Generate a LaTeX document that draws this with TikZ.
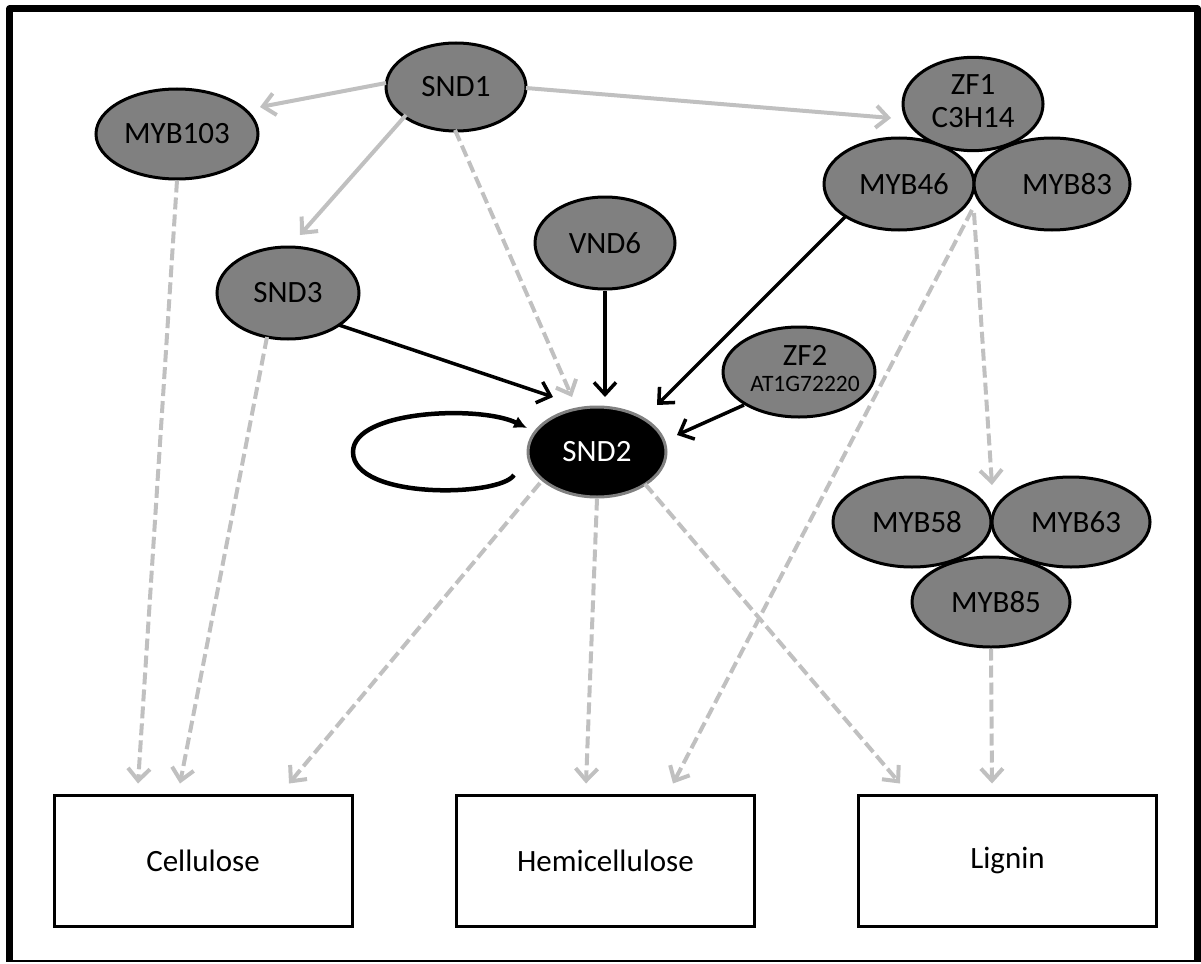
\documentclass[tikz,border=0pt]{standalone}
\usepackage{fontspec}
\setmainfont{Carlito}
\usetikzlibrary{arrows.meta,calc,shapes.geometric}
\definecolor{nodegray}{HTML}{808080}
\definecolor{arrowgray}{HTML}{C0C0C0}
\newcommand{\et}[2]{\makebox[0pt]{\hspace{#1}#2}}
\begin{document}
\begin{tikzpicture}[x=1pt,y=-1pt,
  tf/.style={ellipse, draw=black, line width=3pt, fill=nodegray, inner sep=0pt,
    font=\fontsize{31}{33}\selectfont, text=black},
  outbox/.style={rectangle, draw=black, line width=3pt, fill=white,
    minimum width=298pt, minimum height=131pt, inner sep=0pt,
    font=\fontsize{31}{33}\selectfont},
  barb/.style={-{Straight Barb[length=12pt,width=22pt]}},
  glink/.style={draw=arrowgray, line width=4pt, barb},
  gdash/.style={glink, dash pattern=on 12pt off 5pt},
  blink/.style={draw=black, line width=3.5pt, barb},
  frameline/.style={draw=black, line join=round}]
\useasboundingbox (0,0) rectangle (1201,963);
% frame
\draw[frameline, line width=7pt] (9.5,961) -- (9.5,9) -- (1197.5,9) -- (1197.5,961);
\draw[frameline, line width=2pt] (6,961) -- (1201,961);

% nodes
\node[tf, minimum width=140pt, minimum height=88pt] (snd1) at (456,87) {SND1};
\node[tf, minimum width=162pt, minimum height=90pt] (myb103) at (177,134) {MYB103};
\node[tf, minimum width=142pt, minimum height=92pt] (snd3) at (288,293) {SND3};
\node[tf, minimum width=140pt, minimum height=92pt] (vnd6) at (605,243) {VND6};
\node[tf, minimum width=140pt, minimum height=90pt] (zf1) at (973,104)
  {\et{0pt}{\begin{tabular}{@{}c@{}}ZF1\\C3H14\end{tabular}}};
\node[tf, minimum width=150pt, minimum height=92pt] (myb46) at (899,184) {\et{10pt}{MYB46}};
\node[tf, minimum width=156pt, minimum height=92pt] (myb83) at (1052,184) {\et{30pt}{MYB83}};
\node[tf, minimum width=152pt, minimum height=90pt] (zf2) at (799,372)
  {\et{12pt}{\fontsize{31}{26}\selectfont\begin{tabular}{@{}c@{}}ZF2\\{\fontsize{23.5}{26}\selectfont AT1G72220}\end{tabular}}};
\node[ellipse, draw=nodegray, line width=3pt, fill=black, inner sep=0pt, text=white,
  font=\fontsize{31}{33}\selectfont, minimum width=138pt, minimum height=90pt] (snd2) at (597,452) {SND2};
\node[tf, minimum width=158pt, minimum height=90pt] (myb58) at (912,522) {\et{10pt}{MYB58}};
\node[tf, minimum width=158pt, minimum height=90pt] (myb63) at (1071,522) {\et{10pt}{MYB63}};
\node[tf, minimum width=158pt, minimum height=90pt] (myb85) at (991,602) {\et{10pt}{MYB85}};

\node[outbox] (cell) at (203,860.5) {Cellulose};
\node[outbox] (hemi) at (605.5,860.5) {Hemicellulose};
\node[outbox] (lig) at (1007.5,860.5) {Lignin};

% solid gray
\draw[glink] ($(snd1)+(-70,-4)$) -- ($(myb103)+(83,-27)$);
\draw[glink] ($(snd1)+(-50,28)$) -- ($(snd3)+(12,-58)$);
\draw[glink] ($(snd1)+(70,1)$) -- ($(zf1)+(-82,14)$);

% dashed gray
\draw[gdash] ($(snd1)+(-1,43)$) -- ($(snd2)+(-25,-55)$);
\draw[gdash] ($(myb46)+(73,26)$) -- ($(hemi)+(67.5,-77)$);
\draw[gdash] ($(myb46)+(75,29)$) -- ($(myb58)+(80,-37)$);
\draw[gdash] (myb85.south) -- ($(lig)+(-15.5,-77)$);
\draw[gdash] ($(snd2)+(-57,31)$) -- ($(cell)+(86,-77)$);
\draw[gdash] (snd2.south) -- ($(hemi)+(-19.5,-77)$);
\draw[gdash] ($(snd2)+(48,32)$) -- ($(lig)+(-107.5,-77)$);
\draw[gdash] (myb103.south) -- ($(cell)+(-65,-77)$);
\draw[gdash] ($(snd3)+(-21,44)$) -- ($(cell)+(-23,-77)$);

% black
\draw[blink] ($(snd3)+(51,32)$) -- ($(snd2)+(-44,-55)$);
\draw[blink] (vnd6.south) -- ($(snd2)+(8,-55)$);
\draw[blink] ($(myb46)+(-54,33)$) -- ($(snd2)+(60,-47)$);
\draw[blink] ($(zf2)+(-55,33)$) -- ($(snd2)+(80,-17)$);

% self loop
\coordinate (loopA) at ($(snd2)+(-83,23)$);
\coordinate (loopL) at ($(snd2)+(-244,0)$);
\coordinate (loopB) at ($(snd2)+(-70,-24)$);
\draw[line width=4.5pt, -{Latex[length=13pt,width=13pt]}]
  (loopA) .. controls ($(snd2)+(-97,45)$) and ($(snd2)+(-244,48)$) .. (loopL)
  .. controls ($(snd2)+(-244,-42)$) and ($(snd2)+(-117,-47)$) .. (loopB);
\end{tikzpicture}
\end{document}
